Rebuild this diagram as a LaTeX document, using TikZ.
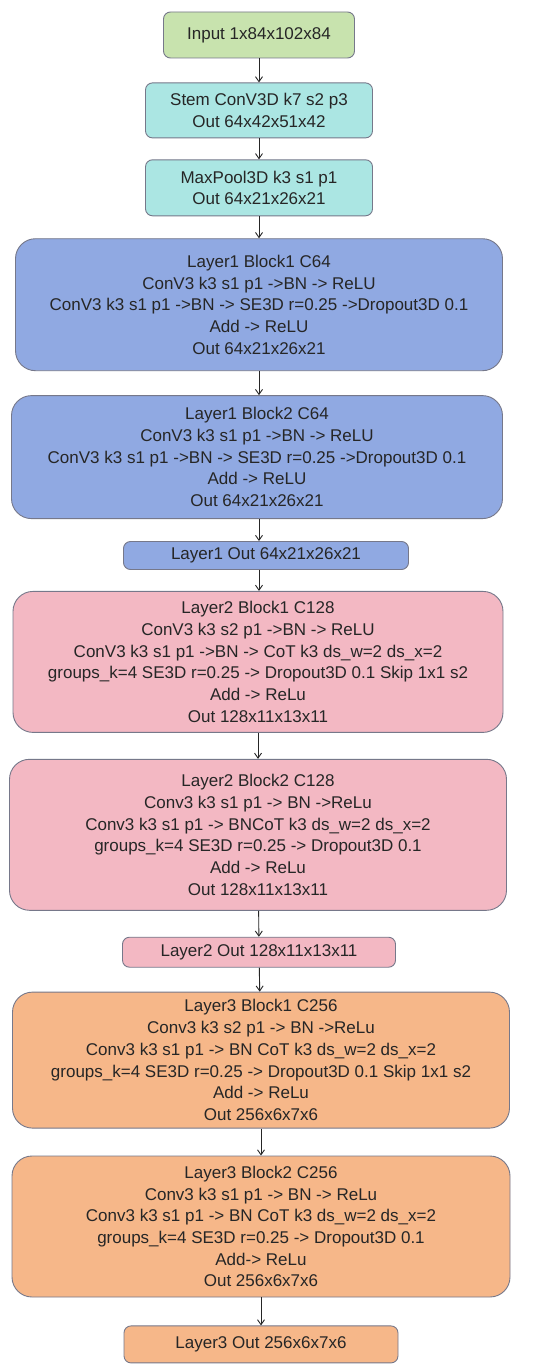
\documentclass[tikz,border=0pt]{standalone}
\usepackage{fontspec}
\setmainfont{Liberation Sans}
\usepackage{tikz}
\usetikzlibrary{arrows.meta,positioning}

\definecolor{inGreen}{RGB}{200,227,174}
\definecolor{stemCyan}{RGB}{171,230,227}
\definecolor{lOneBlue}{RGB}{144,169,226}
\definecolor{lTwoPink}{RGB}{243,184,195}
\definecolor{lThreeOrange}{RGB}{246,183,137}
\definecolor{edgeGrey}{RGB}{118,120,138}

\tikzset{
  blk/.style={draw=edgeGrey,line width=0.9pt,align=center,inner sep=0pt,
    font=\fontsize{17}{21.7}\selectfont,text=black!85},
  small/.style={blk,rounded corners=7pt},
  big/.style={blk,rounded corners=20pt},
  flow/.style={-{Straight Barb[length=5pt,width=7pt]},line width=0.9pt,black!85}
}

\begin{document}
\begin{tikzpicture}[x=1pt,y=1pt,node distance=24pt]
  \useasboundingbox[fill=white] (0,0) rectangle (550,-1370);
  \node[small,fill=inGreen,minimum width=191pt,minimum height=46pt] (inp) at (259,-35) {Input 1x84x102x84};
  \node[small,fill=stemCyan,minimum width=227pt,minimum height=55pt,below=24pt of inp] (stem) {Stem ConV3D k7 s2 p3\\Out 64x42x51x42};
  \node[small,fill=stemCyan,minimum width=227pt,minimum height=56pt,below=21pt of stem] (pool) {MaxPool3D k3 s1 p1\\Out 64x21x26x21};
  % layer 1
  \node[big,fill=lOneBlue,minimum width=487pt,minimum height=132pt,below=22pt of pool] (l1b1) {Layer1 Block1 C64\\ConV3 k3 s1 p1 ->BN -> ReLU\\ConV3 k3 s1 p1 ->BN -> SE3D r=0.25 ->Dropout3D 0.1\\Add -> ReLU\\Out 64x21x26x21};
  \node[big,fill=lOneBlue,minimum width=491pt,minimum height=123pt,below=24pt of l1b1,xshift=-2pt] (l1b2) {Layer1 Block2 C64\\ConV3 k3 s1 p1 ->BN -> ReLU\\ConV3 k3 s1 p1 ->BN -> SE3D r=0.25 ->Dropout3D 0.1\\Add -> ReLU\\Out 64x21x26x21};
  \node[small,fill=lOneBlue,minimum width=285pt,minimum height=28pt,below=22pt of l1b2,xshift=9pt] (l1out) {Layer1 Out 64x21x26x21};
  % layer 2
  \node[big,fill=lTwoPink,minimum width=490pt,minimum height=141pt,below=21pt of l1out,xshift=-8pt] (l2b1) {Layer2 Block1 C128\\ConV3 k3 s2 p1 ->BN -> ReLU\\ConV3 k3 s1 p1 ->BN -> CoT k3 ds\_w=2 ds\_x=2\\groups\_k=4 SE3D r=0.25 -> Dropout3D 0.1 Skip 1x1 s2\\Add -> ReLu\\Out 128x11x13x11};
  \node[big,fill=lTwoPink,minimum width=497pt,minimum height=151pt,below=26pt of l2b1] (l2b2) {Layer2 Block2 C128\\Conv3 k3 s1 p1 -> BN ->ReLu\\Conv3 k3 s1 p1 -> BNCoT k3 ds\_w=2 ds\_x=2\\groups\_k=4 SE3D r=0.25 -> Dropout3D 0.1\\Add -> ReLu\\Out 128x11x13x11};
  \node[small,fill=lTwoPink,minimum width=273pt,minimum height=30pt,below=26pt of l2b2,xshift=1pt] (l2out) {Layer2 Out 128x11x13x11};
  % layer 3
  \node[big,fill=lThreeOrange,minimum width=497pt,minimum height=136pt,below=24pt of l2out,xshift=2pt] (l3b1) {Layer3 Block1 C256\\Conv3 k3 s2 p1 -> BN ->ReLu\\Conv3 k3 s1 p1 -> BN CoT k3 ds\_w=2 ds\_x=2\\groups\_k=4 SE3D r=0.25 -> Dropout3D 0.1 Skip 1x1 s2\\Add -> ReLu\\Out 256x6x7x6};
  \node[big,fill=lThreeOrange,minimum width=498pt,minimum height=141pt,below=27pt of l3b1] (l3b2) {Layer3 Block2 C256\\Conv3 k3 s1 p1 -> BN -> ReLu\\Conv3 k3 s1 p1 -> BN CoT k3 ds\_w=2 ds\_x=2\\groups\_k=4 SE3D r=0.25 -> Dropout3D 0.1\\Add-> ReLu\\Out 256x6x7x6};
  \node[small,fill=lThreeOrange,minimum width=274pt,minimum height=37pt,below=28pt of l3b2] (l3out) {Layer3 Out 256x6x7x6};
  % arrows
  \draw[flow] (inp) -- (stem);
  \draw[flow] (stem) -- (pool);
  \draw[flow] (pool) -- (pool.south |- l1b1.north);
  \draw[flow] (pool.south |- l1b1.south) -- (pool.south |- l1b2.north);
  \draw[flow] (pool.south |- l1b2.south) -- (pool.south |- l1out.north);
  \draw[flow] (pool.south |- l1out.south) -- (pool.south |- l2b1.north);
  \draw[flow] (l2b1) -- (l2b2);
  \draw[flow] (l2b2) -- (l2out);
  \draw[flow] (l2out) -- (l3b1);
  \draw[flow] (l3b1) -- (l3b2);
  \draw[flow] (l3b2) -- (l3out);
\end{tikzpicture}
\end{document}
